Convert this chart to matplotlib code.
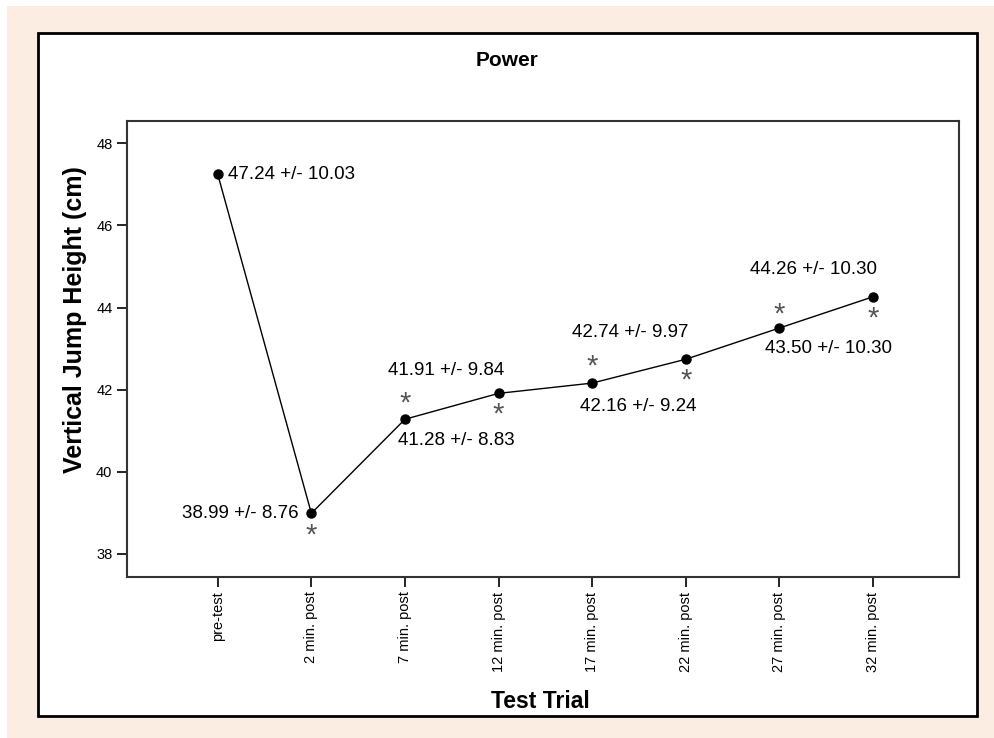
import matplotlib
matplotlib.use("Agg")
import matplotlib.pyplot as plt
from matplotlib.patches import Rectangle

plt.rcParams['font.family'] = ['Liberation Sans', 'DejaVu Sans']

# data
trials = ['pre-test', '2 min. post', '7 min. post', '12 min. post',
          '17 min. post', '22 min. post', '27 min. post', '32 min. post']
means = [47.24, 38.99, 41.28, 41.91, 42.16, 42.74, 43.50, 44.26]
sds = [10.03, 8.76, 8.83, 9.84, 9.24, 9.97, 10.30, 10.30]
signif = [False, True, True, True, True, True, True, True]

# label layout: (dx, dy) in points, horizontal alignment
label_pos = [(7, 0, 'left'), (-9, 0, 'right'), (-5, -15, 'left'), (4, 16.5, 'right'),
             (-9, -16.5, 'left'), (2, 19, 'right'), (-10, -14.5, 'left'), (3, 20, 'right')]
# asterisk above (+) or below (-) the point
star_dy = [0, -16, 11, -15, 12, -15.5, 10, -16]

fig = plt.figure(figsize=(9.95, 7.38), dpi=100)
fig.patch.set_facecolor('white')

# peach background and white inner box
fig.patches.append(Rectangle((7 / 995, 0), 1, 1 - 6 / 738, transform=fig.transFigure,
                             facecolor='#fcede3', edgecolor='none', zorder=-3))
fig.patches.append(Rectangle((38 / 995, 1 - 716 / 738), 939 / 995, 683 / 738,
                             transform=fig.transFigure, facecolor='white',
                             edgecolor='black', linewidth=2, zorder=-2))

ax = fig.add_axes([127 / 995, 1 - 577 / 738, 832 / 995, 456 / 738])
x = list(range(len(trials)))
ax.plot(x, means, color='black', linewidth=1, marker='o', markersize=6.5)

for i, (m, s) in enumerate(zip(means, sds)):
    dx, dy, ha = label_pos[i]
    ax.annotate('%.2f +/- %.2f' % (m, s), xy=(i, m), xytext=(dx, dy),
                textcoords='offset points', ha=ha, va='center', fontsize=13.5)
    if signif[i]:
        ax.annotate('*', xy=(i, m), xytext=(0, star_dy[i]), textcoords='offset points',
                    ha='center', va='center', fontsize=21, color='#555555')

ax.set_xlim(-0.97, 7.92)
ax.set_ylim(37.44, 48.54)
ax.set_xticks(x)
ax.set_xticklabels(trials, rotation=90, fontsize=10.5)
ax.set_yticks([38, 40, 42, 44, 46, 48])
ax.tick_params(axis='y', labelsize=10.5, length=7, width=1.2, direction='out')
ax.tick_params(axis='x', length=7, width=1.2, direction='out')
for sp in ax.spines.values():
    sp.set_color('#333333')
    sp.set_linewidth(1.5)

fig.text(507 / 995, 1 - 60 / 738, 'Power', ha='center', va='center',
         fontsize=15, fontweight='bold')
fig.text(540 / 995, 1 - 701 / 738, 'Test Trial', ha='center', va='center',
         fontsize=16.5, fontweight='bold')
fig.text(75 / 995, 1 - 320 / 738, 'Vertical Jump Height (cm)', ha='center', va='center',
         rotation=90, fontsize=18, fontweight='bold')

fig.savefig('out.png', dpi=100)
